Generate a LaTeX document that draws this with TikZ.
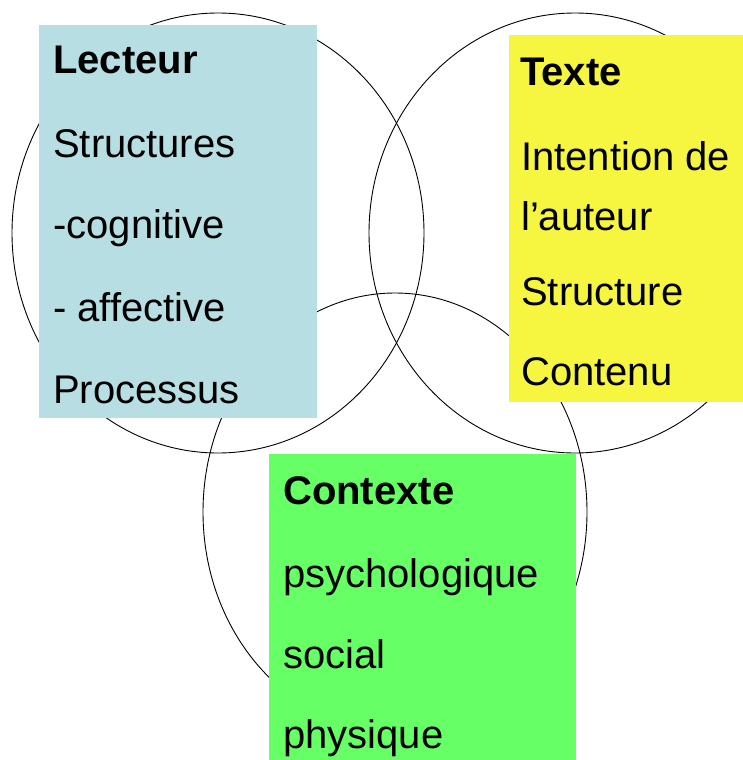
\documentclass[tikz,border=0pt]{standalone}
\usepackage{fontspec}
\setmainfont{Liberation Sans}
\definecolor{lectcol}{RGB}{183,222,226}
\definecolor{textcol}{RGB}{246,246,64}
\definecolor{ctxcol}{RGB}{102,255,102}
\tikzset{
  ring/.style={draw=black, line width=0.9pt},
  lbl/.style={anchor=base west, inner sep=0pt, font=\fontsize{40}{48}\selectfont},
  ttl/.style={lbl, font=\fontsize{40}{48}\selectfont\bfseries}
}
\begin{document}
\begin{tikzpicture}[x=1pt,y=-1pt]
\useasboundingbox (0,0) rectangle (743,760);
\fill[white] (0,0) rectangle (743,760);
\clip (0,0) rectangle (743,760);
% circles
\draw[ring] (218,233) ellipse [x radius=206, y radius=220];
\draw[ring] (575,233) ellipse [x radius=206, y radius=220];
\draw[ring] (395,512) ellipse [x radius=192, y radius=219];
% boxes
\fill[lectcol] (39,25) rectangle (317,418);
\fill[textcol] (509,35) rectangle (760,402);
\fill[ctxcol] (269,454) rectangle (576,780);
% Lecteur
\node[ttl] (l0) at (53,74) {Lecteur};
\node[lbl] (l1) at (53,157) {Structures};
\node[lbl] (l2) at (53,238) {-cognitive};
\node[lbl] (l3) at (53,321) {- affective};
\node[lbl] (l4) at (53,403) {Processus};
% Texte
\node[ttl] (t0) at (520,85) {Texte};
\node[lbl] (t1) at (521,170) {Intention de};
\node[lbl] (t2) at (521,230) {l’auteur};
\node[lbl] (t3) at (521,305) {Structure};
\node[lbl] (t4) at (521,385) {Contenu};
% Contexte
\node[ttl] (c0) at (283,504) {Contexte};
\node[lbl] (c1) at (283,587) {psychologique};
\node[lbl] (c2) at (283,668) {social};
\node[lbl] (c3) at (283,748) {physique};
\end{tikzpicture}
\end{document}
